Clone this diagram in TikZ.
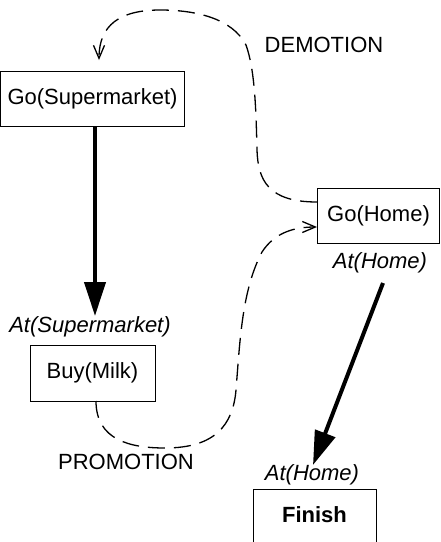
\documentclass[tikz,border=0pt]{standalone}
\usepackage{fontspec}
\setmainfont{Liberation Sans}
\usetikzlibrary{arrows.meta}
\begin{document}
\begin{tikzpicture}[x=1pt,y=-1pt,
  box/.style={draw,line width=1pt,inner sep=0pt,font=\fontsize{22}{26}\selectfont},
  lbl/.style={inner sep=0pt,font=\fontsize{22}{26}\selectfont},
  cond/.style={inner sep=0pt,font=\fontsize{22}{26}\selectfont\itshape},
  thickarrow/.style={line width=4pt,-{Triangle[length=34pt,width=21pt]}},
  dashlink/.style={line width=1.3pt,dash pattern=on 17pt off 9pt},
  dashtip/.style={dashlink,-{Straight Barb[length=13pt,width=11pt,line width=1.3pt]}}]
\useasboundingbox (0,0) rectangle (441,542);
\node[box,minimum width=184pt,minimum height=55pt] (gs) at (92.5,99) {Go(Supermarket)};
\node[box,minimum width=122pt,minimum height=55pt] (gh) at (378.5,215.5) {Go(Home)};
\node[box,minimum width=125pt,minimum height=56pt] (bm) at (92.5,373) {Buy(Milk)};
\node[box,minimum width=123pt,minimum height=60pt,font=\fontsize{22}{26}\selectfont\bfseries] (fin) at (314.5,519) {};
\node[inner sep=0pt,font=\fontsize{22}{26}\selectfont\bfseries] (fint) at (314.5,515) {Finish};
\node[lbl] (dem) at (324,45) {DEMOTION};
\node[lbl] (pro) at (126,462) {PROMOTION};
\node[cond] (ah1) at (380,263) {At(Home)};
\node[cond] (as) at (90,327) {At(Supermarket)};
\node[cond] (ah2) at (312,475) {At(Home)};
\coordinate (a1s) at (95,127);
\coordinate (a1e) at (95,316);
\coordinate (a2s) at (383,283);
\coordinate (a2e) at (313,465);
\draw[thickarrow] (a1s) -- (a1e);
\draw[thickarrow] (a2s) -- (a2e);
\coordinate (d0) at ([yshift=13.5pt]gh.west);
\coordinate (d1) at (99,60);
\draw[dashtip] (d0) .. controls (268,202) and (258,180) .. (257,150)
  .. controls (256,110) and (255,70) .. (246,45)
  .. controls (232,18) and (195,10) .. (160,10)
  .. controls (120,10) and (99,25) .. (d1);
\coordinate (p0) at (96,401);
\coordinate (p1) at ([yshift=-11.5pt]gh.west);
\draw[dashtip] (p0) .. controls (96,440) and (130,448) .. (165,448)
  .. controls (215,448) and (233,425) .. (236,390)
  .. controls (240,340) and (242,290) .. (262,252)
  .. controls (275,232) and (295,227) .. (p1);
\end{tikzpicture}
\end{document}
